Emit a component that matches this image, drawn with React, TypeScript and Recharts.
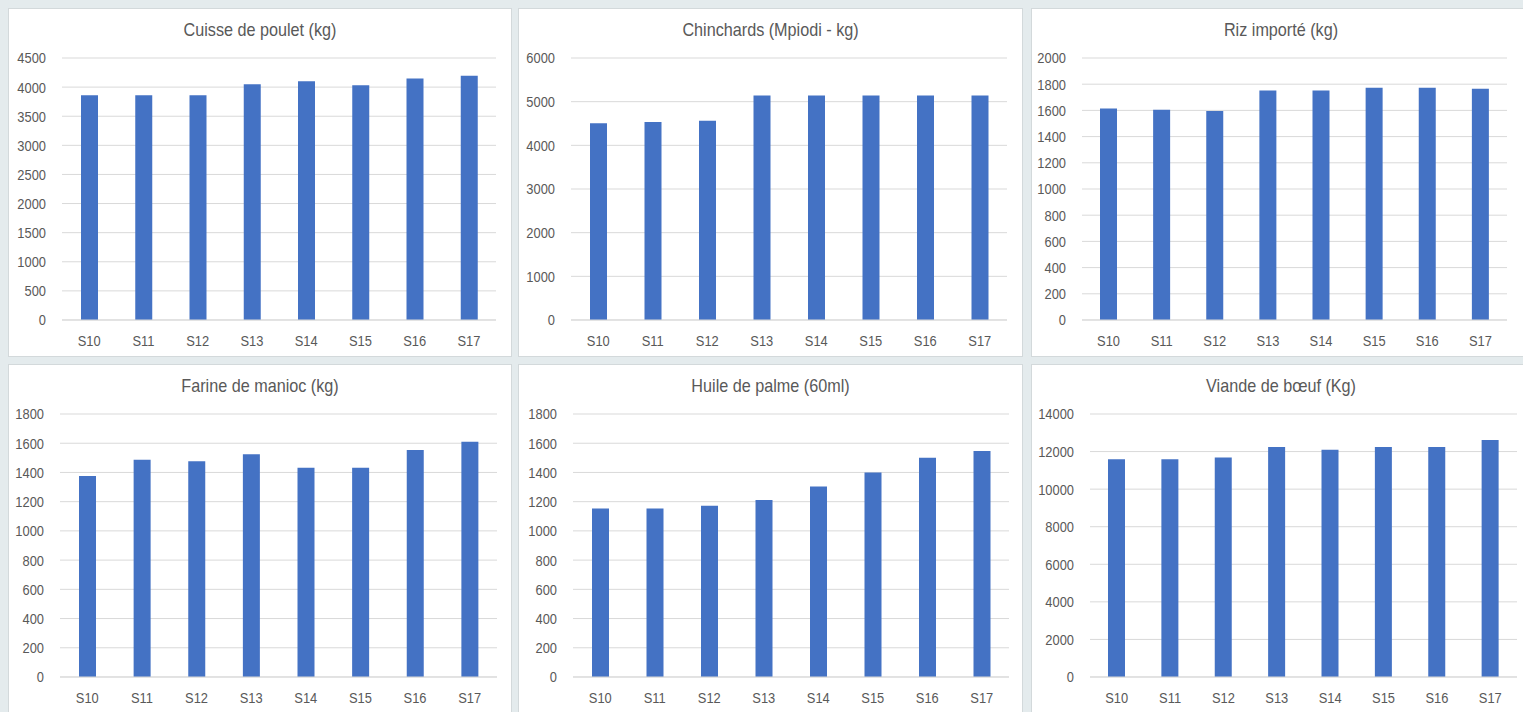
import { BarChart, Bar, XAxis, YAxis, CartesianGrid } from 'recharts';

const weeks = ['S10', 'S11', 'S12', 'S13', 'S14', 'S15', 'S16', 'S17'];

const titles = [
  'Cuisse de poulet (kg)',
  'Chinchards (Mpiodi - kg)',
  'Riz importé (kg)',
  'Farine de manioc (kg)',
  'Huile de palme (60ml)',
  'Viande de bœuf (Kg)',
];

const cuissePoulet = [3860, 3860, 3860, 4050, 4100, 4030, 4150, 4195];
const chinchards = [4505, 4535, 4565, 5140, 5140, 5140, 5140, 5140];
const rizImporte = [1615, 1605, 1595, 1752, 1752, 1772, 1772, 1765];
const farineManioc = [1375, 1487, 1477, 1525, 1432, 1432, 1553, 1610];
const huilePalme = [1154, 1154, 1172, 1211, 1303, 1400, 1500, 1547];
const viandeBoeuf = [11590, 11590, 11680, 12250, 12100, 12250, 12250, 12620];

const ticksPoulet = [0, 500, 1000, 1500, 2000, 2500, 3000, 3500, 4000, 4500];
const ticksChinchards = [0, 1000, 2000, 3000, 4000, 5000, 6000];
const ticksRiz = [0, 200, 400, 600, 800, 1000, 1200, 1400, 1600, 1800, 2000];
const ticksFarine = [0, 200, 400, 600, 800, 1000, 1200, 1400, 1600, 1800];
const ticksHuile = [0, 200, 400, 600, 800, 1000, 1200, 1400, 1600, 1800];
const ticksViande = [0, 2000, 4000, 6000, 8000, 10000, 12000, 14000];

const series = [cuissePoulet, chinchards, rizImporte, farineManioc, huilePalme, viandeBoeuf];
const tickSets = [ticksPoulet, ticksChinchards, ticksRiz, ticksFarine, ticksHuile, ticksViande];

// panel placement on the page (layout only)
const layout = [
  { left: 8, top: 8, width: 504, yw: 54, mr: 16, mt: 50, mb: 7 },
  { left: 518, top: 8, width: 505, yw: 53, mr: 16, mt: 50, mb: 7 },
  { left: 1031, top: 8, width: 500, yw: 51, mr: 24, mt: 50, mb: 7 },
  { left: 8, top: 364, width: 504, yw: 52, mr: 15, mt: 50, mb: 6 },
  { left: 518, top: 364, width: 505, yw: 55, mr: 14, mt: 50, mb: 6 },
  { left: 1031, top: 364, width: 500, yw: 59, mr: 14, mt: 50, mb: 6 },
];

const FONT = "'Liberation Sans', Arial, sans-serif";
const TEXT = '#595959';
const GRID = '#d9d9d9';
const BAR = '#4472C4';
const PANEL_H = 349;

const YTick = (props: any) => {
  const { x, y, payload } = props;
  return (
    <text
      transform={`translate(${x},${y}) scale(0.86,1)`}
      textAnchor="end"
      dy="0.36em"
      fill={TEXT}
      fontSize={15}
      fontFamily={FONT}
    >
      {payload.value}
    </text>
  );
};

const XTick = (props: any) => {
  const { x, y, payload } = props;
  return (
    <text
      transform={`translate(${x},${y + 18}) scale(0.86,1)`}
      textAnchor="middle"
      fill={TEXT}
      fontSize={15}
      fontFamily={FONT}
    >
      {payload.value}
    </text>
  );
};

function Panel({ idx }: { idx: number }) {
  const l = layout[idx];
  const ticks = tickSets[idx];
  const data = weeks.map((w, i) => ({ week: w, value: series[idx][i] }));
  return (
    <div
      style={{
        position: 'absolute',
        left: l.left,
        top: l.top,
        width: l.width,
        height: PANEL_H,
        background: '#ffffff',
        boxShadow: 'inset 0 0 0 1px #d3d9db',
      }}
    >
      <svg
        width={l.width}
        height={40}
        style={{ position: 'absolute', left: 0, top: 0 }}
      >
        <text
          transform={`translate(${l.width / 2},28) scale(0.875,1)`}
          textAnchor="middle"
          fill={TEXT}
          fontSize={18.5}
          fontFamily={FONT}
        >
          {titles[idx]}
        </text>
      </svg>
      <div style={{ position: 'absolute', left: 0, top: 0 }}>
        <BarChart
          width={l.width}
          height={PANEL_H}
          data={data}
          margin={{ top: l.mt, right: l.mr, left: 0, bottom: l.mb }}
        >
          <CartesianGrid vertical={false} stroke={GRID} />
          <XAxis
            dataKey="week"
            axisLine={{ stroke: GRID }}
            tickLine={false}
            tick={<XTick />}
            interval={0}
            height={30}
          />
          <YAxis
            width={l.yw}
            domain={[0, ticks[ticks.length - 1]]}
            ticks={ticks}
            interval={0}
            axisLine={false}
            tickLine={false}
            tickMargin={10}
            tick={<YTick />}
          />
          <Bar dataKey="value" fill={BAR} barSize={17} isAnimationActive={false} />
        </BarChart>
      </div>
    </div>
  );
}

export default function App() {
  return (
    <div
      style={{
        position: 'fixed',
        left: 0,
        top: 0,
        width: 1523,
        height: 712,
        overflow: 'hidden',
        background: '#e4ebed',
      }}
    >
      {titles.map((_, i) => (
        <Panel key={i} idx={i} />
      ))}
    </div>
  );
}
